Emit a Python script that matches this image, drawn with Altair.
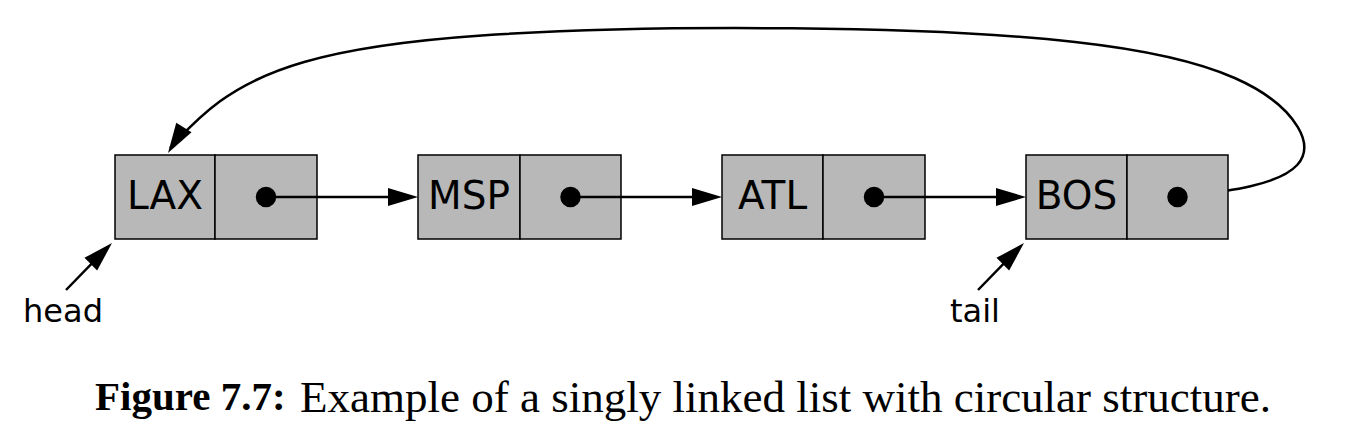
import altair as alt
import pandas as pd

# node labels and box positions (pixel space of the figure)
labels = ["LAX", "MSP", "ATL", "BOS"]
box_left = [115, 418, 722, 1026]
box_mid = [215, 520, 823, 1127]
box_right = [317, 621, 925, 1228]
box_top = 155
box_bottom = 239
row_y = 197

# circular link curve from BOS back to LAX
curve_x = [1178, 1255, 1305, 1308, 1250, 1100, 800, 450, 290, 215, 170]
curve_y = [197, 188, 168, 130, 75, 38, 25, 32, 60, 100, 148]

# head / tail pointers
ptr_names = ["head", "tail"]
ptr_text_x = [63, 975]
ptr_text_y = [312, 312]
ptr_from_x = [66, 978]
ptr_from_y = [290, 290]
ptr_to_x = [112, 1024]
ptr_to_y = [243, 243]

caption_bold = "Figure 7.7:"
caption_rest = "Example of a singly linked list with circular structure."

W, H = 1337, 416
X = alt.X("x:Q", scale=alt.Scale(domain=[8, 8 + W]), axis=None)
Y = alt.Y("y:Q", scale=alt.Scale(domain=[8 + H, 8]), axis=None)

cells = pd.DataFrame(
    [{"x": l, "x2": m, "y": box_top, "y2": box_bottom} for l, m in zip(box_left, box_mid)]
    + [{"x": m, "x2": r, "y": box_top, "y2": box_bottom} for m, r in zip(box_mid, box_right)]
)
rects = alt.Chart(cells).mark_rect(fill="#b8b8b8", stroke="black", strokeWidth=1.5).encode(
    x=X, x2="x2:Q", y=Y, y2="y2:Q"
)

names = pd.DataFrame({"x": [(l + m) / 2 for l, m in zip(box_left, box_mid)], "y": row_y, "t": labels})
name_text = alt.Chart(names).mark_text(font="DejaVu Sans", fontSize=39, baseline="middle").encode(
    x=X, y=Y, text="t:N"
)

dots = pd.DataFrame({"x": [(m + r) / 2 for m, r in zip(box_mid, box_right)], "y": row_y})
dot_marks = alt.Chart(dots).mark_point(filled=True, color="black", opacity=1, size=420).encode(x=X, y=Y)

segs = []
for i in range(3):
    segs.append({"id": i, "x": (box_mid[i] + box_right[i]) / 2, "y": row_y, "o": 0})
    segs.append({"id": i, "x": box_left[i + 1] - 20, "y": row_y, "o": 1})
for j, (fx, fy, tx, ty) in enumerate(zip(ptr_from_x, ptr_from_y, ptr_to_x, ptr_to_y)):
    segs.append({"id": 10 + j, "x": fx, "y": fy, "o": 0})
    segs.append({"id": 10 + j, "x": tx - 10, "y": ty + 10, "o": 1})
seg_lines = alt.Chart(pd.DataFrame(segs)).mark_line(color="black", strokeWidth=2.5).encode(
    x=X, y=Y, detail="id:N", order="o:Q"
)

curve = pd.DataFrame({"x": curve_x, "y": curve_y, "o": range(len(curve_x))})
curve_line = alt.Chart(curve).mark_line(color="black", strokeWidth=2.5, interpolate="basis").encode(
    x=X, y=Y, order="o:Q"
)

heads = pd.DataFrame({
    "x": box_left[1:] + ptr_to_x + [168],
    "y": [row_y] * 3 + ptr_to_y + [153],
    "a": [0, 0, 0, 315, 315, 122],
})
arrow_path = "M0,0 L-2,-0.6 L-2,0.6 Z"
head_marks = alt.Chart(heads).mark_point(
    shape=arrow_path, filled=True, color="black", opacity=1, size=900
).encode(x=X, y=Y, angle=alt.Angle("a:Q", scale=None))

ptrs = pd.DataFrame({"x": ptr_text_x, "y": ptr_text_y, "t": ptr_names})
ptr_text = alt.Chart(ptrs).mark_text(font="DejaVu Sans", fontSize=32, baseline="middle").encode(
    x=X, y=Y, text="t:N"
)

cap = pd.DataFrame({"x": [95, 300], "y": [398, 398], "t": [caption_bold, caption_rest]})
cap_bold = alt.Chart(cap.iloc[:1]).mark_text(
    font="Liberation Serif", fontSize=41, fontWeight="bold", align="left", baseline="middle"
).encode(x=X, y=Y, text="t:N")
cap_rest = alt.Chart(cap.iloc[1:]).mark_text(
    font="Liberation Serif", fontSize=45, align="left", baseline="middle"
).encode(x=X, y=Y, text="t:N")

chart = alt.layer(
    curve_line, rects, seg_lines, name_text, dot_marks, head_marks, ptr_text, cap_bold, cap_rest
).properties(width=W, height=H, padding=0, autosize="none", background="white").configure_view(stroke=None)

chart.save("out.html", embed_options={"renderer": "svg", "actions": False})
